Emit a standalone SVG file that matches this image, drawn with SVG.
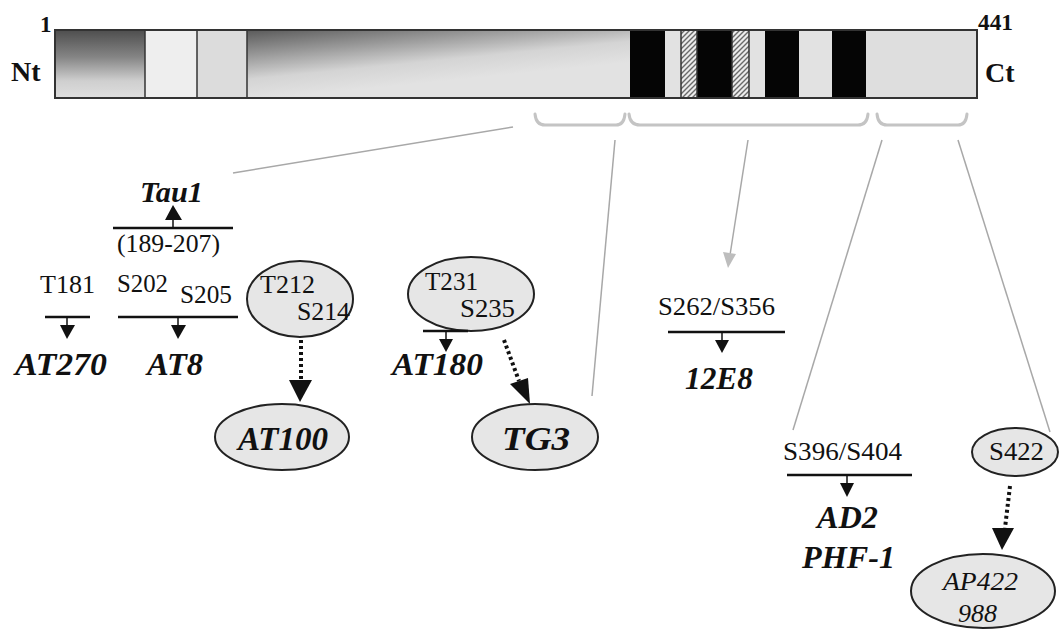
<svg xmlns="http://www.w3.org/2000/svg" width="1060" height="630" viewBox="0 0 1060 630">
<style>
.t{font-family:"Liberation Serif",serif;fill:#111}
.b{font-weight:bold}
.bi{font-weight:bold;font-style:italic}
.i{font-style:italic}
.s{font-size:25px}
.sep{stroke:#333;stroke-width:1.5}
.bar{fill:none;stroke:#333;stroke-width:2}
.blk{fill:#050505}
.lt{fill:#e2e2e2}
.gl{stroke:#a8a8a8;stroke-width:1.5;fill:none}
.br{stroke:#c4c4c4;stroke-width:3;fill:none;stroke-linecap:round}
.ln{stroke:#111;stroke-width:2.5}
.st{stroke:#111;stroke-width:1.5}
.hd{fill:#111}
.el{fill:#e6e6e6;stroke:#222;stroke-width:2}
.dot{stroke:#111;stroke-width:4;stroke-dasharray:3 3;fill:none}
</style>
<defs>
<linearGradient id="g1" x1="0" y1="0" x2="0" y2="1">
<stop offset="0" stop-color="#4e4e4e"/>
<stop offset="0.4" stop-color="#858585"/>
<stop offset="0.75" stop-color="#cfcfcf"/>
<stop offset="1" stop-color="#dedede"/>
</linearGradient>
<linearGradient id="g2" gradientUnits="userSpaceOnUse" x1="247" y1="30" x2="254" y2="100">
<stop offset="0" stop-color="#5a5a5a"/>
<stop offset="0.35" stop-color="#969696"/>
<stop offset="0.7" stop-color="#d4d4d4"/>
<stop offset="1" stop-color="#e2e2e2"/>
</linearGradient>
<pattern id="hatch" patternUnits="userSpaceOnUse" width="5" height="5">
<rect width="5" height="5" fill="#ececec"/>
<path d="M-1,6 L6,-1 M-1,1 L1,-1 M4,6 L6,4" stroke="#6a6a6a" stroke-width="1.4"/>
</pattern>
</defs>

<g id="protein">
<rect x="55" y="30" width="90" height="68" fill="url(#g1)"/>
<rect x="145" y="30" width="52" height="68" fill="#eeeeee"/>
<rect x="197" y="30" width="50" height="68" fill="#dcdcdc"/>
<rect x="247" y="30" width="383" height="68" fill="url(#g2)"/>
<rect x="630" y="30" width="35" height="68" class="blk"/>
<rect x="665" y="30" width="16" height="68" class="lt"/>
<rect x="681" y="30" width="16" height="68" fill="url(#hatch)"/>
<rect x="697" y="30" width="35" height="68" class="blk"/>
<rect x="732" y="30" width="17" height="68" fill="url(#hatch)"/>
<rect x="749" y="30" width="16" height="68" class="lt"/>
<rect x="765" y="30" width="34" height="68" class="blk"/>
<rect x="799" y="30" width="33" height="68" class="lt"/>
<rect x="832" y="30" width="34" height="68" class="blk"/>
<rect x="866" y="30" width="111" height="68" fill="#dedede"/>
<line class="sep" x1="145" y1="30" x2="145" y2="98"/>
<line class="sep" x1="197" y1="30" x2="197" y2="98"/>
<line class="sep" x1="247" y1="30" x2="247" y2="98"/>
<line class="sep" x1="681" y1="30" x2="681" y2="98"/>
<line class="sep" x1="697" y1="30" x2="697" y2="98"/>
<line class="sep" x1="732" y1="30" x2="732" y2="98"/>
<line class="sep" x1="749" y1="30" x2="749" y2="98"/>
<rect class="bar" x="55" y="30" width="922" height="68"/>
<text class="t b" x="40" y="32" font-size="23">1</text>
<text class="t b" x="11" y="81" font-size="28">Nt</text>
<text class="t b" x="978" y="30" font-size="23" textLength="35" lengthAdjust="spacingAndGlyphs">441</text>
<text class="t b" x="985" y="82" font-size="28">Ct</text>
</g>

<g id="braces">
<path class="br" d="M535,114 Q536,125 545,125 L616,125 Q624,125 625,114"/>
<path class="br" d="M629,114 Q630,125 640,125 L858,125 Q867,125 868,114"/>
<path class="br" d="M877,114 Q878,125 887,125 L958,125 Q966,125 967,114"/>
</g>

<g id="connectors">
<line class="gl" x1="513" y1="127" x2="233" y2="173"/>
<line class="gl" x1="615" y1="140" x2="592" y2="396"/>
<line class="gl" x1="748" y1="140" x2="730" y2="255"/>
<path d="M723,252 L736,254 L728,268 Z" fill="#bdbdbd"/>
<line class="gl" x1="882" y1="140" x2="793" y2="430"/>
<line class="gl" x1="958" y1="140" x2="1050" y2="432"/>
<path class="dot" d="M301,340 L301,380"/>
<path class="hd" d="M289,380 L312,380 L300,402 Z"/>
<path class="dot" d="M504,340 L519,381"/>
<path class="hd" d="M510,384 L528,378 L530,404 Z"/>
<path class="dot" d="M1010,486 L1005,528"/>
<path class="hd" d="M992,528 L1014,528 L1002,550 Z"/>
</g>

<g id="tau1">
<text class="t bi" x="140" y="202" font-size="30" textLength="63" lengthAdjust="spacingAndGlyphs">Tau1</text>
<line class="ln" x1="113" y1="228" x2="233" y2="228"/>
<line class="st" x1="173" y1="228" x2="173" y2="218"/>
<path class="hd" d="M165,220 L182,220 L173,205 Z"/>
<text class="t s" x="117" y="252" textLength="103" lengthAdjust="spacingAndGlyphs">(189-207)</text>
</g>

<g id="at270">
<text class="t s" x="40" y="293" textLength="55" lengthAdjust="spacingAndGlyphs">T181</text>
<line class="ln" x1="45" y1="317" x2="90" y2="317"/>
<line class="st" x1="67" y1="317" x2="67" y2="326"/>
<path class="hd" d="M60,325 L75,325 L67,339 Z"/>
<text class="t bi" x="15" y="375" font-size="31" textLength="92" lengthAdjust="spacingAndGlyphs">AT270</text>
</g>

<g id="at8">
<text class="t s" x="117" y="292" textLength="51" lengthAdjust="spacingAndGlyphs">S202</text>
<text class="t s" x="180" y="303" textLength="52" lengthAdjust="spacingAndGlyphs">S205</text>
<line class="ln" x1="118" y1="317" x2="238" y2="317"/>
<line class="st" x1="178" y1="317" x2="178" y2="326"/>
<path class="hd" d="M171,325 L186,325 L178,339 Z"/>
<text class="t bi" x="147" y="375" font-size="31" textLength="56" lengthAdjust="spacingAndGlyphs">AT8</text>
</g>

<g id="t212-s214">
<ellipse class="el" cx="300" cy="299" rx="53" ry="38"/>
<text class="t s" x="260" y="293" textLength="55" lengthAdjust="spacingAndGlyphs">T212</text>
<text class="t s" x="297" y="320" textLength="53" lengthAdjust="spacingAndGlyphs">S214</text>
</g>

<g id="at100">
<ellipse class="el" cx="282" cy="437" rx="67" ry="33"/>
<text class="t bi" x="238" y="450" font-size="34" textLength="90" lengthAdjust="spacingAndGlyphs">AT100</text>
</g>

<g id="t231-s235">
<ellipse class="el" cx="471" cy="294" rx="63" ry="37"/>
<text class="t s" x="425" y="290" textLength="53" lengthAdjust="spacingAndGlyphs">T231</text>
<text class="t s" x="460" y="317" textLength="55" lengthAdjust="spacingAndGlyphs">S235</text>
</g>

<g id="at180">
<line class="ln" x1="423" y1="331" x2="468" y2="331"/>
<line class="st" x1="446" y1="331" x2="446" y2="340"/>
<path class="hd" d="M439,339 L453,339 L446,352 Z"/>
<text class="t bi" x="392" y="375" font-size="31" textLength="91" lengthAdjust="spacingAndGlyphs">AT180</text>
</g>

<g id="tg3">
<ellipse class="el" cx="535" cy="437" rx="63" ry="33"/>
<text class="t bi" x="502" y="450" font-size="34" textLength="68" lengthAdjust="spacingAndGlyphs">TG3</text>
</g>

<g id="e12e8">
<text class="t s" x="658" y="315" textLength="117" lengthAdjust="spacingAndGlyphs">S262/S356</text>
<line class="ln" x1="668" y1="332" x2="785" y2="332"/>
<line class="st" x1="722" y1="332" x2="722" y2="341"/>
<path class="hd" d="M715,340 L729,340 L722,353 Z"/>
<text class="t bi" x="685" y="389" font-size="31" textLength="68" lengthAdjust="spacingAndGlyphs">12E8</text>
</g>

<g id="ad2-phf1">
<text class="t s" x="783" y="460" textLength="119" lengthAdjust="spacingAndGlyphs">S396/S404</text>
<line class="ln" x1="787" y1="475" x2="912" y2="475"/>
<line class="st" x1="847" y1="475" x2="847" y2="484"/>
<path class="hd" d="M840,483 L854,483 L847,497 Z"/>
<text class="t bi" x="817" y="528" font-size="31" textLength="61" lengthAdjust="spacingAndGlyphs">AD2</text>
<text class="t bi" x="802" y="568" font-size="31" textLength="93" lengthAdjust="spacingAndGlyphs">PHF-1</text>
</g>

<g id="s422">
<ellipse class="el" cx="1015" cy="452" rx="43" ry="24"/>
<text class="t s" x="989" y="460" textLength="55" lengthAdjust="spacingAndGlyphs">S422</text>
</g>

<g id="ap422">
<ellipse class="el" cx="983" cy="591" rx="72" ry="37"/>
<text class="t i" x="943" y="590" font-size="26" textLength="75" lengthAdjust="spacingAndGlyphs">AP422</text>
<text class="t i" x="958" y="622" font-size="26" textLength="39" lengthAdjust="spacingAndGlyphs">988</text>
</g>
</svg>
